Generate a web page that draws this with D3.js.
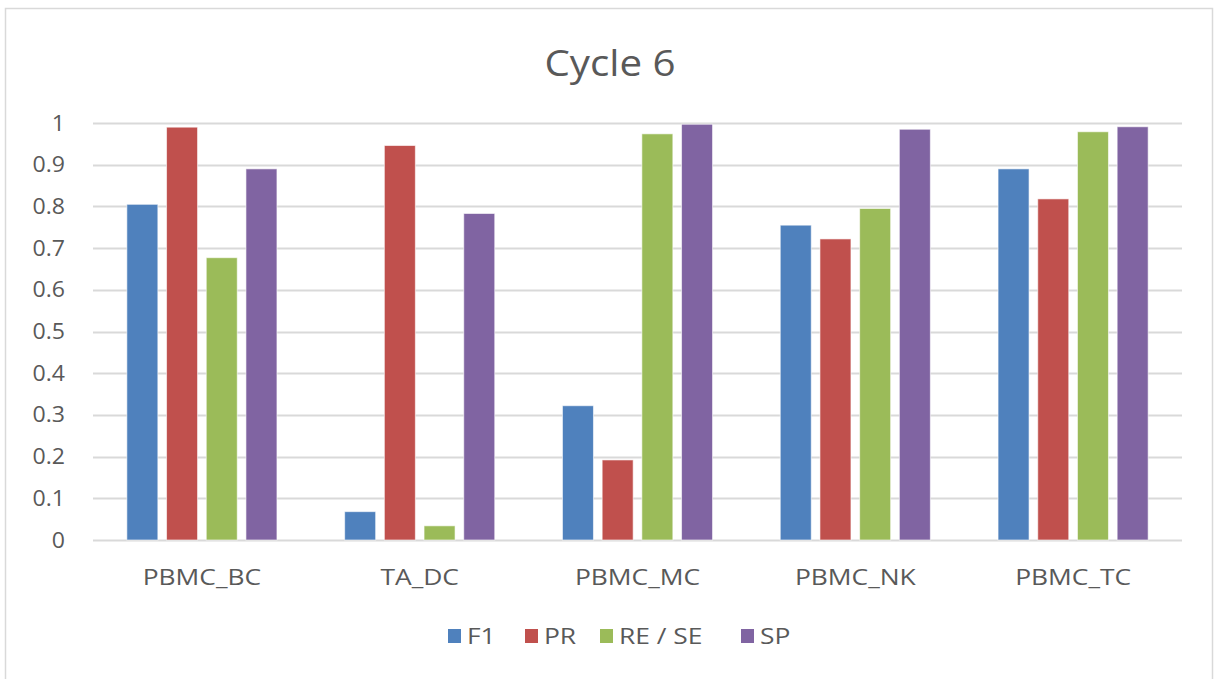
<!DOCTYPE html>
<html>
<head>
<meta charset="utf-8">
<script src="https://cdn.jsdelivr.net/npm/d3@7"></script>
<style>
  html, body { margin: 0; padding: 0; background: #fff; }
  svg { display: block; }
  text { font-family: "Open Sans", "Noto Sans", sans-serif; fill: #595959; }
</style>
</head>
<body>
<svg id="chart" width="1215" height="679"></svg>
<script>
// Cell types on the x axis
const categories = ["PBMC_BC", "TA_DC", "PBMC_MC", "PBMC_NK", "PBMC_TC"];
// Metric series
const seriesNames = ["F1", "PR", "RE / SE", "SP"];
const seriesColors = ["#4F81BD", "#C0504D", "#9BBB59", "#8064A2"];
const f1Values = [0.805, 0.068, 0.322, 0.755, 0.890];
const prValues = [0.990, 0.946, 0.192, 0.722, 0.818];
const reValues = [0.677, 0.034, 0.974, 0.795, 0.979];
const spValues = [0.890, 0.783, 0.997, 0.985, 0.991];
const yTicks = [0, 0.1, 0.2, 0.3, 0.4, 0.5, 0.6, 0.7, 0.8, 0.9, 1];
const titleText = "Cycle 6";

const seriesValues = [f1Values, prValues, reValues, spValues];

const svg = d3.select("#chart");
const W = 1215, H = 679;
const plot = { left: 93, right: 1182, top: 123, bottom: 540 };
// the chart's lettering is set wide
const stretch = 1.2;

// chart area frame
svg.append("rect")
  .attr("x", 5.5).attr("y", 8.5)
  .attr("width", W - 8).attr("height", H)
  .attr("fill", "#fff")
  .attr("stroke", "#D9D9D9").attr("stroke-width", 1.5);

const x0 = d3.scaleBand()
  .domain(categories)
  .range([plot.left, plot.right])
  .paddingInner(0.231)
  .paddingOuter(0.1155);

const x1 = d3.scaleBand()
  .domain(seriesNames)
  .range([0, x0.bandwidth()])
  .padding(0.219);

const y = d3.scaleLinear()
  .domain([0, 1])
  .range([plot.bottom, plot.top]);

// horizontal gridlines
svg.append("g")
  .selectAll("line")
  .data(yTicks)
  .join("line")
  .attr("x1", plot.left).attr("x2", plot.right)
  .attr("y1", d => Math.round(y(d)) + 0.5)
  .attr("y2", d => Math.round(y(d)) + 0.5)
  .attr("stroke", "#D9D9D9")
  .attr("stroke-width", 2);

// y axis labels
const yAxis = d3.axisLeft(y)
  .tickValues(yTicks)
  .tickFormat(d => d3.format("~g")(d))
  .tickSize(0)
  .tickPadding(0);
const yG = svg.append("g")
  .attr("transform", `translate(${plot.left - 28},0)`)
  .call(yAxis);
yG.select(".domain").remove();
yG.selectAll("text")
  .attr("font-size", 22)
  .attr("transform", `scale(1.05,1)`)
  .style("font-family", '"Open Sans", sans-serif')
  .attr("fill", "#595959");

// bars
const groups = svg.append("g")
  .selectAll("g")
  .data(categories)
  .join("g")
  .attr("transform", c => `translate(${x0(c)},0)`);

groups.selectAll("rect")
  .data((c, ci) => seriesNames.map((s, si) => ({ s, si, v: seriesValues[si][ci] })))
  .join("rect")
  .attr("x", d => x1(d.s))
  .attr("width", x1.bandwidth())
  .attr("y", d => y(d.v))
  .attr("height", d => y(0) - y(d.v))
  .attr("fill", d => seriesColors[d.si])
  .attr("stroke", "#fff")
  .attr("stroke-opacity", 0.6)
  .attr("stroke-width", 1);

// x axis labels
const xAxis = d3.axisBottom(x0).tickSize(0).tickPadding(0);
const xG = svg.append("g")
  .attr("transform", `translate(0,${plot.bottom + 29})`)
  .call(xAxis);
xG.select(".domain").remove();
xG.selectAll("text")
  .attr("font-size", 22)
  .attr("transform", `scale(${stretch},1)`)
  .style("font-family", '"Open Sans", sans-serif')
  .attr("fill", "#595959");

// title
svg.append("text")
  .attr("transform", `translate(610,76) scale(1.12,1)`)
  .attr("text-anchor", "middle")
  .attr("font-size", 36)
  .text(titleText);

// legend
const legendItems = [
  { name: seriesNames[0], x: 448 },
  { name: seriesNames[1], x: 525 },
  { name: seriesNames[2], x: 600 },
  { name: seriesNames[3], x: 741 }
];
const lg = svg.append("g");
legendItems.forEach((item, i) => {
  lg.append("rect")
    .attr("x", item.x).attr("y", 629)
    .attr("width", 13).attr("height", 14)
    .attr("fill", seriesColors[i]);
  lg.append("text")
    .attr("transform", `translate(${item.x + 19},644) scale(${stretch},1)`)
    .attr("font-size", 22)
    .text(item.name);
});
</script>
</body>
</html>
